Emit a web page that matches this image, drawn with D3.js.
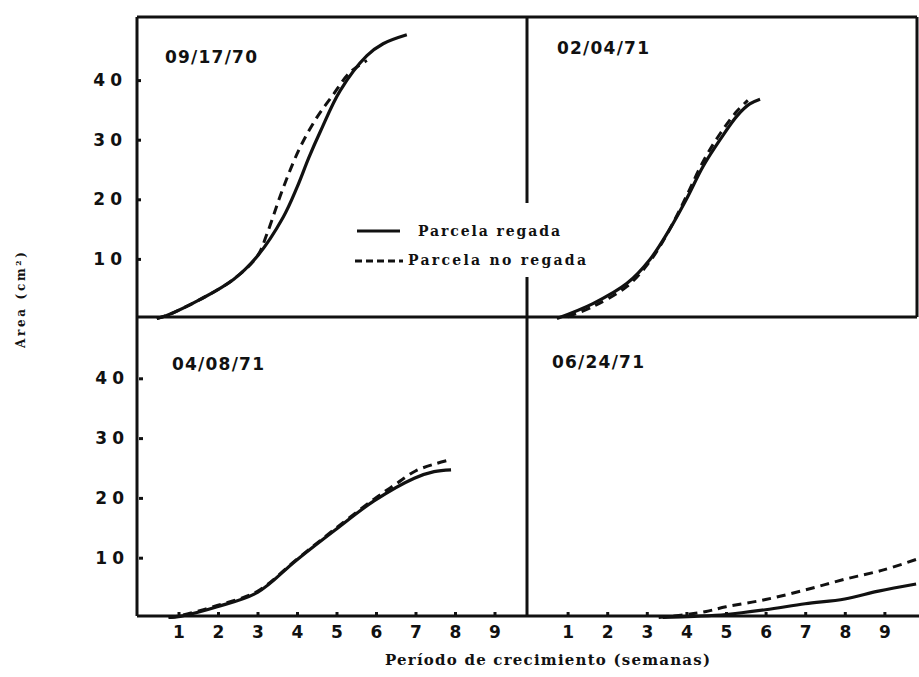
<!DOCTYPE html>
<html>
<head>
<meta charset="utf-8">
<script src="https://cdn.jsdelivr.net/npm/d3@7"></script>
<style>
  body { margin: 0; background: #fff; }
  text { fill: #111; }
</style>
</head>
<body>
<svg id="vis" width="919" height="677"></svg>
<script>
// growth curves, [week, area cm2]
const sep70Regada = [[0.45,0],[0.7,0.5],[1.55,3.2],[2.4,6.6],[3.0,10.5],[3.65,17],[4.0,22],[4.3,27],[4.6,31.5],[5.09,38.2],[5.77,44.1],[6.18,46.1],[6.78,47.6]];
const sep70NoRegada = [[0.45,0],[0.7,0.5],[1.55,3.2],[2.4,6.6],[3.0,10.5],[3.24,14.2],[3.65,21.9],[4.07,28.6],[4.5,33.7],[4.9,37.4],[5.34,41.3],[5.77,43.3]];
const feb71Regada = [[0.73,0],[1.64,2.5],[2.5,5.9],[3.08,9.9],[3.58,15],[4.0,20],[4.42,25.5],[4.85,30],[5.28,34],[5.6,36],[5.86,36.8]];
const feb71NoRegada = [[1.0,0.3],[1.64,2.0],[2.5,5.4],[3.08,9.6],[3.58,15],[4.0,20.5],[4.42,26.3],[4.85,31],[5.28,34.8],[5.55,36.6]];
const apr71Regada = [[0.75,0],[1.04,0.2],[1.98,1.8],[3.0,4.2],[3.97,9.5],[4.94,14.5],[5.95,19.5],[6.97,23.3],[7.47,24.4],[7.9,24.7]];
const apr71NoRegada = [[0.75,0],[1.04,0.3],[1.98,2.0],[3.0,4.4],[3.97,9.6],[4.94,14.7],[5.95,19.8],[6.5,22.3],[7.0,24.5],[7.5,25.7],[7.9,26.4]];
const jun71Regada = [[3.4,0],[4.2,0.2],[5.0,0.5],[6.0,1.3],[7.0,2.3],[8.0,3.1],[8.85,4.4],[9.8,5.6]];
const jun71NoRegada = [[3.3,0],[4.0,0.5],[4.5,1.0],[5.0,1.8],[6.0,3.0],[7.0,4.6],[8.0,6.4],[9.0,8.0],[9.8,9.7]];

const panelDates = ['09/17/70', '02/04/71', '04/08/71', '06/24/71'];
const yTicks = [10, 20, 30, 40];
const weekTicks = [1, 2, 3, 4, 5, 6, 7, 8, 9];
const legendLabels = ['Parcela regada', 'Parcela no regada'];

const vis = d3.select('#vis');
const ink = '#111';

// frame geometry
const fLeft = 137, fMid = 527, fRight = 917, fTop = 17, fMidY = 317, fBottom = 616;

const xLeft = d3.scaleLinear().domain([0, 10]).range([fLeft + 2, fLeft + 2 + 395]);
const xRight = d3.scaleLinear().domain([0, 10]).range([fMid + 1, fMid + 1 + 396]);
const yTop = d3.scaleLinear().domain([0, 10]).range([318.5, 318.5 - 59.6]);
const yBottom = d3.scaleLinear().domain([0, 10]).range([617.5, 617.5 - 59.8]);

// frame lines
const frame = vis.append('g')
  .attr('stroke', ink)
  .attr('stroke-width', 3)
  .attr('fill', 'none');
[
  [fLeft, fTop, fRight, fTop],
  [fRight, fTop, fRight, fMidY],
  [fLeft, fMidY, fRight, fMidY],
  [fLeft, fBottom, 919, fBottom],
  [fLeft, fTop, fLeft, fBottom],
  [fMid, fTop, fMid, 203],
  [fMid, 277, fMid, fBottom]
].forEach(l => {
  frame.append('line')
    .attr('x1', l[0]).attr('y1', l[1])
    .attr('x2', l[2]).attr('y2', l[3]);
});

// y axes
const yAxis = (g, scale) => {
  g.call(d3.axisLeft(scale).tickValues(yTicks).tickSizeInner(-4).tickSizeOuter(0).tickPadding(10));
  g.select('.domain').remove();
  g.selectAll('.tick line').attr('stroke', ink).attr('stroke-width', 3);
  g.selectAll('.tick text')
    .attr('font-family', 'DejaVu Sans')
    .attr('font-weight', 'bold')
    .attr('font-size', 17)
    .attr('letter-spacing', 5)
    .attr('fill', ink);
};
vis.append('g').attr('transform', `translate(${fLeft},0)`).call(yAxis, yTop);
vis.append('g').attr('transform', `translate(${fLeft + 2},0)`).call(yAxis, yBottom);

// x axes (lower panels)
const xAxis = (g, scale) => {
  g.call(d3.axisBottom(scale).tickValues(weekTicks).tickSizeInner(-4).tickSizeOuter(0).tickPadding(10));
  g.select('.domain').remove();
  g.selectAll('.tick line').attr('stroke', ink).attr('stroke-width', 3);
  g.selectAll('.tick text')
    .attr('font-family', 'DejaVu Sans')
    .attr('font-weight', 'bold')
    .attr('font-size', 17)
    .attr('fill', ink);
};
vis.append('g').attr('transform', `translate(0,${fBottom})`).call(xAxis, xLeft);
vis.append('g').attr('transform', `translate(0,${fBottom})`).call(xAxis, xRight);

// curves
const panels = [
  { x: xLeft, y: yTop, solid: sep70Regada, dashed: sep70NoRegada },
  { x: xRight, y: yTop, solid: feb71Regada, dashed: feb71NoRegada },
  { x: xLeft, y: yBottom, solid: apr71Regada, dashed: apr71NoRegada },
  { x: xRight, y: yBottom, solid: jun71Regada, dashed: jun71NoRegada }
];

panels.forEach(p => {
  const line = d3.line()
    .x(d => p.x(d[0]))
    .y(d => p.y(d[1]))
    .curve(d3.curveCatmullRom.alpha(0.5));
  vis.append('path')
    .attr('d', line(p.dashed))
    .attr('fill', 'none')
    .attr('stroke', ink)
    .attr('stroke-width', 3)
    .attr('stroke-dasharray', '9,6');
  vis.append('path')
    .attr('d', line(p.solid))
    .attr('fill', 'none')
    .attr('stroke', ink)
    .attr('stroke-width', 3.2);
});

// panel dates
const datePos = [[165, 63], [557, 54], [172, 370], [552, 368]];
panelDates.forEach((t, i) => {
  vis.append('text')
    .attr('x', datePos[i][0])
    .attr('y', datePos[i][1])
    .attr('font-family', 'DejaVu Sans')
    .attr('font-weight', 'bold')
    .attr('font-size', 17)
    .attr('textLength', 92)
    .attr('lengthAdjust', 'spacing')
    .text(t);
});

// legend
const legend = vis.append('g');
legend.append('line')
  .attr('x1', 357).attr('x2', 400).attr('y1', 231).attr('y2', 231)
  .attr('stroke', ink).attr('stroke-width', 3);
legend.append('line')
  .attr('x1', 355).attr('x2', 403).attr('y1', 261).attr('y2', 261)
  .attr('stroke', ink).attr('stroke-width', 3).attr('stroke-dasharray', '7,4');
legend.append('text')
  .attr('x', 418).attr('y', 236)
  .attr('font-family', 'DejaVu Serif').attr('font-weight', 'bold').attr('font-size', 14)
  .attr('textLength', 142).attr('lengthAdjust', 'spacing')
  .text(legendLabels[0]);
legend.append('text')
  .attr('x', 408).attr('y', 265)
  .attr('font-family', 'DejaVu Serif').attr('font-weight', 'bold').attr('font-size', 14)
  .attr('textLength', 178).attr('lengthAdjust', 'spacing')
  .text(legendLabels[1]);

// axis titles
vis.append('text')
  .attr('x', 385).attr('y', 665)
  .attr('font-family', 'DejaVu Serif').attr('font-weight', 'bold').attr('font-size', 15)
  .attr('textLength', 325).attr('lengthAdjust', 'spacing')
  .text('Período de crecimiento (semanas)');

vis.append('text')
  .attr('transform', 'translate(25,348) rotate(-90)')
  .attr('font-family', 'DejaVu Serif').attr('font-weight', 'bold').attr('font-size', 12)
  .attr('textLength', 96).attr('lengthAdjust', 'spacing')
  .text('Area (cm²)');
</script>
</body>
</html>
